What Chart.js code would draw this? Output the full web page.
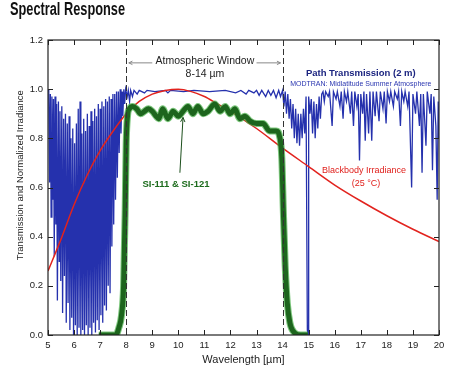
<!DOCTYPE html>
<html>
<head>
<meta charset="utf-8">
<script src="https://cdn.jsdelivr.net/npm/chart.js@4.4.1/dist/chart.umd.min.js"></script>
<style>
  html, body { margin: 0; padding: 0; background: #fff; }
  #wrap { width: 458px; height: 369px; position: relative; }
</style>
</head>
<body>
<div id="wrap"><canvas id="spectralChart"></canvas></div>
<script>
// axis ticks
const xTicks = [5, 6, 7, 8, 9, 10, 11, 12, 13, 14, 15, 16, 17, 18, 19, 20];
const yTicks = [0, 0.2, 0.4, 0.6, 0.8, 1.0, 1.2];
const windowEdges = [8, 14];

// path transmission (MODTRAN, 2 m)
const transWl = [
  5.00, 5.03, 5.06, 5.09, 5.12, 5.15, 5.18, 5.21, 5.24, 5.27, 5.30, 5.33, 5.36, 5.40, 5.43, 5.46, 5.49,
  5.53, 5.56, 5.60, 5.63, 5.67, 5.70, 5.74, 5.77, 5.81, 5.84, 5.88, 5.91, 5.95, 5.98, 6.02, 6.05, 6.09,
  6.12, 6.16, 6.19, 6.23, 6.26, 6.30, 6.33, 6.37, 6.40, 6.44, 6.47, 6.51, 6.54, 6.58, 6.61, 6.65, 6.68,
  6.72, 6.75, 6.79, 6.82, 6.86, 6.89, 6.93, 6.96, 7.00, 7.03, 7.07, 7.10, 7.14, 7.17, 7.21, 7.24, 7.28,
  7.31, 7.35, 7.38, 7.42, 7.45, 7.49, 7.52, 7.56, 7.59, 7.63, 7.66, 7.70, 7.73, 7.77, 7.80, 7.84, 7.87,
  7.91, 7.94, 7.98,
  8.04, 8.08, 8.13, 8.17, 8.24, 8.30, 8.42, 8.50, 8.70, 8.80, 9.10, 9.50, 9.60, 9.70, 10.2, 10.6, 11.2,
  11.8, 12.2, 12.4, 12.6, 12.7, 12.9, 13.0, 13.1, 13.2, 13.35, 13.45, 13.55, 13.65, 13.75, 13.85, 13.92, 14.0,
  14.05, 14.1, 14.15, 14.2, 14.25, 14.3, 14.35, 14.4, 14.45, 14.5, 14.55, 14.6, 14.65, 14.7, 14.75, 14.8,
  14.85, 14.9, 14.95, 14.98, 15.0, 15.05, 15.1, 15.15, 15.2, 15.25, 15.3, 15.35, 15.4, 15.45, 15.5,
  15.55, 15.6, 15.65, 15.75, 15.8, 15.9, 15.95, 16.05, 16.1, 16.2, 16.25, 16.32, 16.37, 16.45, 16.5,
  16.6, 16.65, 16.72, 16.77, 16.85, 16.9, 16.95, 17.0, 17.07, 17.12, 17.17, 17.22, 17.3, 17.35, 17.42,
  17.47, 17.55, 17.6, 17.7, 17.75, 17.85, 17.9, 17.97, 18.02, 18.1, 18.15, 18.25, 18.3, 18.4, 18.45,
  18.52, 18.57, 18.65, 18.7, 18.8, 18.85, 18.95, 19.0, 19.1, 19.15, 19.25, 19.3, 19.35, 19.4, 19.5,
  19.55, 19.65, 19.7, 19.75, 19.8, 19.88, 19.93, 19.97, 20.0
];
const transVal = [
  1.00, 0.99, 0.62, 0.98, 0.48, 0.97, 0.55, 0.96, 0.32, 0.97, 0.45, 0.94, 0.14, 0.95, 0.30, 0.91, 0.22,
  0.93, 0.09, 0.88, 0.24, 0.90, 0.05, 0.86, 0.13, 0.89, 0.02, 0.80, 0.07, 0.84, 0.00, 0.78, 0.04, 0.86,
  0.00, 0.92, 0.03, 0.95, 0.00, 0.82, 0.02, 0.88, 0.00, 0.83, 0.04, 0.90, 0.00, 0.85, 0.03, 0.91, 0.00,
  0.87, 0.05, 0.92, 0.01, 0.89, 0.06, 0.94, 0.02, 0.92, 0.08, 0.95, 0.05, 0.93, 0.12, 0.96, 0.10, 0.95,
  0.20, 0.97, 0.17, 0.96, 0.36, 0.98, 0.45, 0.98, 0.55, 0.99, 0.64, 0.99, 0.74, 1.00, 0.82, 0.99, 0.89,
  1.00, 0.94, 1.00,
  0.97, 0.995, 0.95, 0.995, 0.97, 0.995, 0.98, 0.995, 0.985, 0.995, 0.99, 0.995, 0.985, 0.995, 0.99, 0.995, 0.99,
  0.995, 0.985, 0.995, 0.98, 0.995, 0.985, 0.995, 0.975, 0.995, 0.97, 0.995, 0.975, 0.995, 0.965, 0.995, 0.97, 0.995,
  0.93, 0.99, 0.90, 0.98, 0.88, 0.96, 0.84, 0.94, 0.80, 0.92, 0.78, 0.90, 0.77, 0.90, 0.80, 0.92,
  0.82, 0.97, 0.02, 0.00, 0.97, 0.90, 0.96, 0.82, 0.95, 0.80, 0.94, 0.84, 0.97, 0.88, 0.98,
  0.99, 0.95, 0.99, 0.97, 0.99, 0.85, 0.99, 0.96, 0.99, 0.93, 0.99, 0.88, 0.99, 0.95, 0.99,
  0.90, 0.99, 0.85, 0.99, 0.93, 0.98, 0.71, 0.98, 0.90, 0.99, 0.79, 0.98, 0.82, 0.99, 0.79,
  0.99, 0.89, 0.99, 0.87, 0.99, 0.92, 0.99, 0.86, 0.99, 0.95, 0.99, 0.93, 0.99, 0.96, 0.99,
  0.85, 0.99, 0.95, 0.99, 0.93, 0.99, 0.60, 0.98, 0.90, 0.99, 0.85, 0.98, 0.66, 0.98, 0.77,
  0.99, 0.90, 0.98, 0.67, 0.97, 0.85, 0.55, 0.95, 0.80
];

// blackbody irradiance at 25 °C, normalised
const bbWl  = [5, 5.5, 6, 6.5, 7, 7.5, 8, 8.5, 9, 9.5, 10, 10.5, 11, 11.5, 12, 13, 14, 15, 16, 17, 18, 19, 20];
const bbVal = [0.26, 0.39, 0.53, 0.65, 0.75, 0.83, 0.90, 0.95, 0.98, 0.995, 1.0, 0.99, 0.97, 0.94, 0.91,
               0.84, 0.76, 0.685, 0.61, 0.545, 0.485, 0.43, 0.38];

// SI-111 & SI-121 sensor response
const siWl  = [6.95, 7.3, 7.6, 7.72, 7.82, 7.9, 7.96, 8.0, 8.05, 8.12, 8.25, 8.4, 8.55, 8.7, 8.85, 9.0,
               9.15, 9.25, 9.4, 9.6, 9.8, 10.0, 10.18, 10.37, 10.56, 10.75, 10.95, 11.14, 11.4, 11.6,
               11.8, 11.98, 12.17, 12.36, 12.55, 12.75, 13.0, 13.25, 13.5, 13.75, 13.9, 13.97, 14.03,
               14.1, 14.18, 14.28, 14.45, 14.7, 14.97];
const siVal = [0.0, 0.0, 0.0, 0.03, 0.08, 0.2, 0.5, 0.78, 0.89, 0.92, 0.93, 0.92, 0.90, 0.91, 0.92, 0.91,
               0.89, 0.88, 0.92, 0.88, 0.91, 0.89, 0.91, 0.93, 0.90, 0.93, 0.90, 0.91, 0.94, 0.91,
               0.93, 0.90, 0.92, 0.88, 0.89, 0.87, 0.86, 0.86, 0.83, 0.83, 0.80, 0.72, 0.50,
               0.28, 0.13, 0.05, 0.01, 0.0, 0.0];

const pts = (xs, ys) => xs.map((v, i) => ({ x: v, y: ys[i] }));

const FONT = "'Liberation Sans', Arial, sans-serif";

function arrow(ctx, x1, y1, x2, y2, size) {
  const ang = Math.atan2(y2 - y1, x2 - x1);
  ctx.beginPath();
  ctx.moveTo(x1, y1);
  ctx.lineTo(x2, y2);
  ctx.stroke();
  ctx.beginPath();
  ctx.moveTo(x2, y2);
  ctx.lineTo(x2 - size * Math.cos(ang - 0.45), y2 - size * Math.sin(ang - 0.45));
  ctx.moveTo(x2, y2);
  ctx.lineTo(x2 - size * Math.cos(ang + 0.45), y2 - size * Math.sin(ang + 0.45));
  ctx.stroke();
}

const decor = {
  id: 'decor',
  afterDraw(chart) {
    const { ctx, chartArea: a, scales: { x, y } } = chart;
    ctx.save();

    // frame + inward ticks
    ctx.strokeStyle = '#222';
    ctx.lineWidth = 1.2;
    ctx.strokeRect(a.left, a.top, a.right - a.left, a.bottom - a.top);
    ctx.lineWidth = 1;
    ctx.beginPath();
    xTicks.forEach(v => {
      const px = Math.round(x.getPixelForValue(v)) + 0.5;
      ctx.moveTo(px, a.top); ctx.lineTo(px, a.top + 5);
      ctx.moveTo(px, a.bottom); ctx.lineTo(px, a.bottom - 5);
    });
    yTicks.forEach(v => {
      const py = Math.round(y.getPixelForValue(v)) + 0.5;
      ctx.moveTo(a.left, py); ctx.lineTo(a.left + 5, py);
      ctx.moveTo(a.right, py); ctx.lineTo(a.right - 5, py);
    });
    ctx.stroke();

    // atmospheric window edges
    ctx.setLineDash([6, 3]);
    ctx.strokeStyle = '#333';
    windowEdges.forEach(v => {
      const px = Math.round(x.getPixelForValue(v)) + 0.5;
      ctx.beginPath(); ctx.moveTo(px, a.top); ctx.lineTo(px, a.bottom); ctx.stroke();
    });
    ctx.setLineDash([]);

    // window arrows + label
    ctx.strokeStyle = '#888';
    ctx.lineWidth = 1;
    const ay = y.getPixelForValue(1.107);
    arrow(ctx, x.getPixelForValue(9.0), ay, x.getPixelForValue(8.1), ay, 4);
    arrow(ctx, x.getPixelForValue(13.0), ay, x.getPixelForValue(13.92), ay, 4);
    ctx.fillStyle = '#222';
    ctx.textAlign = 'center';
    ctx.textBaseline = 'middle';
    ctx.font = `10.5px ${FONT}`;
    ctx.fillText('Atmospheric Window', x.getPixelForValue(11.02), y.getPixelForValue(1.115));
    ctx.fillText('8-14 \u00b5m', x.getPixelForValue(11.02), y.getPixelForValue(1.062));

    // path transmission label
    ctx.fillStyle = '#1c2580';
    ctx.font = `bold 9.5px ${FONT}`;
    ctx.fillText('Path Transmission (2 m)', x.getPixelForValue(17.0), y.getPixelForValue(1.066));
    ctx.fillStyle = '#2a36b0';
    ctx.font = `7px ${FONT}`;
    ctx.fillText('MODTRAN: Midlatitude Summer Atmosphere', x.getPixelForValue(17.0), y.getPixelForValue(1.019));

    // blackbody label
    ctx.fillStyle = '#e0201c';
    ctx.font = `9px ${FONT}`;
    ctx.fillText('Blackbody Irradiance', x.getPixelForValue(17.12), y.getPixelForValue(0.671));
    ctx.fillText('(25 \u00b0C)', x.getPixelForValue(17.2), y.getPixelForValue(0.618));

    // sensor label + arrow
    ctx.fillStyle = '#1c6b1c';
    ctx.font = `bold 9.5px ${FONT}`;
    ctx.fillText('SI-111 & SI-121', x.getPixelForValue(9.91), y.getPixelForValue(0.614));
    ctx.strokeStyle = '#1c4f1c';
    arrow(ctx, x.getPixelForValue(10.06), y.getPixelForValue(0.66),
               x.getPixelForValue(10.18), y.getPixelForValue(0.885), 5);

    // y axis title, sits a bit above the plot centre as in the original
    ctx.save();
    ctx.fillStyle = '#222';
    ctx.font = `9.5px ${FONT}`;
    ctx.translate(20, y.getPixelForValue(0.65));
    ctx.rotate(-Math.PI / 2);
    ctx.fillText('Transmission and Normalized Irradiance', 0, 0);
    ctx.restore();

    // page title, condensed bold
    ctx.save();
    ctx.fillStyle = '#111';
    ctx.textAlign = 'left';
    ctx.textBaseline = 'alphabetic';
    ctx.font = `bold 18px ${FONT}`;
    const w = ctx.measureText('Spectral Response').width;
    ctx.translate(10, 15);
    ctx.scale(115 / w, 1);
    ctx.fillText('Spectral Response', 0, 0);
    ctx.restore();

    ctx.restore();
  }
};

new Chart(document.getElementById('spectralChart'), {
  type: 'line',
  data: {
    datasets: [
      {
        label: 'SI-111 & SI-121',
        data: pts(siWl, siVal),
        borderColor: '#1d651d',
        borderWidth: 5,
        pointRadius: 0,
        cubicInterpolationMode: 'monotone',
        order: 0
      },
      {
        label: 'SI glow',
        data: pts(siWl, siVal),
        borderColor: 'rgba(70,175,70,0.7)',
        borderWidth: 7,
        pointRadius: 0,
        cubicInterpolationMode: 'monotone',
        order: 1
      },
      {
        label: 'Blackbody Irradiance',
        data: pts(bbWl, bbVal),
        borderColor: '#e2231e',
        borderWidth: 1.5,
        pointRadius: 0,
        cubicInterpolationMode: 'monotone',
        order: 2
      },
      {
        label: 'Path Transmission',
        data: pts(transWl, transVal),
        borderColor: '#2531ad',
        borderWidth: 1.3,
        pointRadius: 0,
        tension: 0,
        order: 3
      }
    ]
  },
  options: {
    responsive: true,
    maintainAspectRatio: false,
    animation: false,
    layout: { padding: { top: 40, right: 19, left: 0, bottom: 0 } },
    plugins: {
      legend: { display: false },
      tooltip: { enabled: false }
    },
    scales: {
      x: {
        type: 'linear',
        min: 5,
        max: 20,
        afterFit: s => { s.height = 34; },
        grid: { display: false, drawTicks: false },
        border: { display: false },
        ticks: { stepSize: 1, padding: 5, color: '#222', font: { family: FONT, size: 9.5 } },
        title: {
          display: true,
          text: 'Wavelength [\u00b5m]',
          color: '#222',
          font: { family: FONT, size: 11 },
          padding: { top: 0, bottom: 2 }
        }
      },
      y: {
        min: 0,
        max: 1.2,
        afterFit: s => { s.width = 48; },
        grid: { display: false, drawTicks: false },
        border: { display: false },
        ticks: {
          stepSize: 0.2,
          padding: 5,
          color: '#222',
          font: { family: FONT, size: 9.5 },
          callback: v => v.toFixed(1)
        },
        title: { display: false }
      }
    }
  },
  plugins: [decor]
});
</script>
</body>
</html>
